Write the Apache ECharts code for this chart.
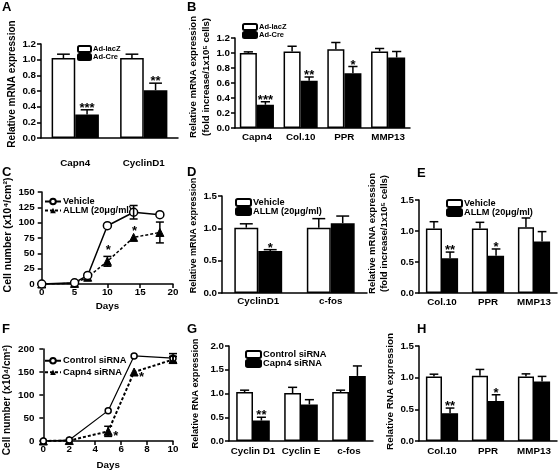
<!DOCTYPE html>
<html><head><meta charset="utf-8">
<script src="https://cdn.jsdelivr.net/npm/echarts@6/dist/echarts.min.js"></script>
<style>html,body{margin:0;padding:0;background:#fff}#c{width:560px;height:473px}</style>
</head><body><div id="c"></div>
<script>
// ================= DATA =================
// Panel A
const catsA = ['Capn4', 'CyclinD1'];
const lacZA = [1.02, 1.02];
const lacZErrA = [0.05, 0.05];
const creA = [0.30, 0.61];
const creErrA = [0.06, 0.09];
const starsA = ['***', '**'];
const yTicksA = [0, 0.2, 0.4, 0.6, 0.8, 1.0, 1.2];
// Panel B
const catsB = ['Capn4', 'Col.10', 'PPR', 'MMP13'];
const lacZB = [1.00, 1.02, 1.05, 1.02];
const lacZErrB = [0.015, 0.07, 0.09, 0.04];
const creB = [0.31, 0.63, 0.73, 0.94];
const creErrB = [0.04, 0.05, 0.09, 0.08];
const starsB = ['***', '**', '*', ''];
const yTicksB = [0, 0.2, 0.4, 0.6, 0.8, 1.0, 1.2];
// Panel C
const daysC = [0, 5, 7, 10, 14, 18];
const vehicleC = [0, 2, 14, 95, 117, 113];
const vehicleErrC = [0, 0, 0, 0, 11, 0];
const allmC = [0, 1, 11, 37, 76, 84];
const allmErrC = [0, 0, 0, 8, 0, 17];
const starsC = ['', '', '', '*', '*', ''];
const xTicksC = [0, 5, 10, 15, 20];
const yTicksC = [0, 25, 50, 75, 100, 125, 150];
// Panel D
const catsD = ['CyclinD1', 'c-fos'];
const vehD = [1.01, 1.01];
const vehErrD = [0.06, 0.14];
const allmD = [0.65, 1.08];
const allmErrD = [0.02, 0.11];
const starsD = ['*', ''];
const yTicksD = [0, 0.5, 1.0, 1.5];
// Panel E
const catsE = ['Col.10', 'PPR', 'MMP13'];
const vehE = [1.04, 1.04, 1.06];
const vehErrE = [0.11, 0.10, 0.15];
const allmE = [0.56, 0.60, 0.83];
const allmErrE = [0.10, 0.11, 0.16];
const starsE = ['**', '*', ''];
const yTicksE = [0, 0.5, 1.0, 1.5];
// Panel F
const daysF = [0, 2, 5, 7, 10];
const ctrlF = [0, 2, 66, 185, 180];
const ctrlErrF = [0, 0, 0, 0, 10];
const capnF = [0, 1, 21, 150, 177];
const capnErrF = [0, 0, 11, 0, 7];
const starsF = ['', '', '*', '*', ''];
const xTicksF = [0, 2, 4, 6, 8, 10];
const yTicksF = [0, 50, 100, 150, 200];
// Panel G
const catsG = ['Cyclin D1', 'Cyclin E', 'c-fos'];
const ctrlG = [1.03, 1.01, 1.03];
const ctrlErrG = [0.04, 0.12, 0.04];
const capnG = [0.43, 0.77, 1.37];
const capnErrG = [0.07, 0.10, 0.21];
const starsG = ['**', '', ''];
const yTicksG = [0, 0.5, 1.0, 1.5, 2.0];
// Panel H
const catsH = ['Col.10', 'PPR', 'MMP13'];
const ctrlH = [1.02, 1.03, 1.02];
const ctrlErrH = [0.035, 0.10, 0.04];
const capnH = [0.44, 0.63, 0.94];
const capnErrH = [0.08, 0.10, 0.08];
const starsH = ['**', '*', ''];
const yTicksH = [0, 0.5, 1.0, 1.5];

// ================= FONTS =================
function fontAvailable(name) {
  const ctx = document.createElement('canvas').getContext('2d');
  const s = 'Relative mRNA expression 0123';
  ctx.font = 'bold 40px monospace'; const a = ctx.measureText(s).width;
  ctx.font = 'bold 40px "' + name + '", monospace'; const b = ctx.measureText(s).width;
  return Math.abs(a - b) > 0.5;
}
let FONT, BOOST;
if (fontAvailable('Liberation Sans Narrow')) { FONT = '"Liberation Sans Narrow"'; BOOST = 1; }
else if (fontAvailable('Arial Narrow')) { FONT = '"Arial Narrow"'; BOOST = 1; }
else { FONT = '"Liberation Sans", Arial, sans-serif'; BOOST = 1.08; }
const LETTER_FONT = '"Liberation Sans", Arial, sans-serif';
const mctx = document.createElement('canvas').getContext('2d');
// font size giving a text about the width it has in the reference picture
function sizeFor(text, target, boost) {
  mctx.font = 'bold 100px ' + FONT;
  return Math.round((boost || 1) * target / mctx.measureText(text).width * 1000) / 10;
}
const F_TICK = Math.min(12, sizeFor('CyclinD1', 39, BOOST));
const F_LEG_AB = Math.max(7.5, Math.min(10, sizeFor('Ad-lacZ', 23, BOOST)));
const F_LEG_C = Math.min(11, sizeFor('ALLM (20\u03bcg/ml)', 64, BOOST));
const F_LEG_F = Math.min(11, sizeFor('Control siRNA', 59, BOOST));
const F_STAR = 13;

// ================= HELPERS =================
const AX = { color: '#000', width: 1.5 };
function catX(gi, cats, margin) {
  return {
    type: 'category', gridIndex: gi, data: cats,
    axisLine: { lineStyle: AX },
    axisTick: { alignWithLabel: true, length: 4, lineStyle: AX },
    axisLabel: { color: '#000', fontFamily: FONT, fontWeight: 'bold', fontSize: F_TICK, margin: margin, interval: 0, hideOverlap: false },
    splitLine: { show: false }
  };
}
function valX(gi, ticks, name, gap) {
  return {
    type: 'value', gridIndex: gi, min: ticks[0], max: ticks[ticks.length - 1], interval: ticks[1] - ticks[0],
    axisLine: { lineStyle: AX }, axisTick: { length: 4, lineStyle: AX },
    axisLabel: { color: '#000', fontFamily: FONT, fontWeight: 'bold', fontSize: F_TICK, margin: 3 },
    splitLine: { show: false },
    name: name, nameLocation: 'middle', nameGap: gap,
    nameTextStyle: { color: '#000', fontFamily: FONT, fontWeight: 'bold', fontSize: F_TICK }
  };
}
// name title sized so its (first) line has the reference length
function valY(gi, ticks, dec, name, gap, shift, offset, titleLen) {
  const pad = shift >= 0 ? [0, 0, 0, 2 * shift] : [0, -2 * shift, 0, 0];
  const fsz = Math.min(13, sizeFor(name.split('\n')[0], titleLen));
  return {
    type: 'value', gridIndex: gi, min: ticks[0], max: ticks[ticks.length - 1], interval: ticks[1] - ticks[0],
    offset: offset || 0,
    axisLine: { show: true, lineStyle: AX }, axisTick: { show: true, length: 4, lineStyle: AX },
    axisLabel: { color: '#000', fontFamily: FONT, fontWeight: 'bold', fontSize: F_TICK, margin: 5,
      formatter: v => Number(v).toFixed(dec) },
    splitLine: { show: false },
    name: name, nameLocation: 'middle', nameRotate: 90, nameGap: gap,
    nameTextStyle: { color: '#000', fontFamily: FONT, fontWeight: 'bold', fontSize: fsz, lineHeight: fsz + 3, padding: pad }
  };
}
function barErr(gapFrac, side, errs, stars) {
  return function (params, api) {
    const i = api.value(0), v = api.value(1), e = errs[params.dataIndex];
    const band = api.size([1, 0])[0];
    const bw = band * (1 - gapFrac) / 2;
    const base = api.coord([i, v]);
    const cx = base[0] + side * bw / 2;
    const top = api.coord([i, v + e])[1];
    const cap = bw * 0.27;
    const st = { stroke: '#000', lineWidth: 1.5 };
    const ch = [
      { type: 'line', shape: { x1: cx, y1: base[1], x2: cx, y2: top }, style: st },
      { type: 'line', shape: { x1: cx - cap, y1: top, x2: cx + cap, y2: top }, style: st }
    ];
    const s = stars ? stars[params.dataIndex] : '';
    if (s) ch.push({ type: 'text', x: cx, y: top + 5, style: { text: s, fill: '#000',
      font: 'bold ' + F_STAR + 'px ' + LETTER_FONT, textAlign: 'center', textVerticalAlign: 'bottom' } });
    return { type: 'group', children: ch };
  };
}
function lineErr(errs, stars, starMode) {
  return function (params, api) {
    const x = api.value(0), y = api.value(1), e = errs[params.dataIndex];
    const p = api.coord([x, y]);
    const st = { stroke: '#000', lineWidth: 1.5 };
    const ch = [];
    let top = p[1];
    if (e > 0) {
      top = api.coord([x, y + e])[1];
      const bot = api.coord([x, y - e])[1];
      ch.push({ type: 'line', shape: { x1: p[0], y1: bot, x2: p[0], y2: top }, style: st });
      ch.push({ type: 'line', shape: { x1: p[0] - 4, y1: top, x2: p[0] + 4, y2: top }, style: st });
      ch.push({ type: 'line', shape: { x1: p[0] - 4, y1: bot, x2: p[0] + 4, y2: bot }, style: st });
    }
    const s = stars ? stars[params.dataIndex] : '';
    if (s) {
      if (starMode === 'above') ch.push({ type: 'text', x: p[0] + 1, y: top + 1, style: { text: s, fill: '#000',
        font: 'bold ' + F_STAR + 'px ' + LETTER_FONT, textAlign: 'center', textVerticalAlign: 'bottom' } });
      else ch.push({ type: 'text', x: p[0] + 5, y: p[1] + 5, style: { text: s, fill: '#000',
        font: 'bold ' + F_STAR + 'px ' + LETTER_FONT, textAlign: 'left', textVerticalAlign: 'middle' } });
    }
    return { type: 'group', children: ch };
  };
}
const WHITE_BAR = { color: '#fff', borderColor: '#000', borderWidth: 1.5 };
const BLACK_BAR = { color: '#000', borderColor: '#000', borderWidth: 1.5 };
function barPanel(gi, p, names, w, we, b, be, stars, gap) {
  const g = gap + '%';
  return [
    { type: 'bar', name: p + ':' + names[0], xAxisIndex: gi, yAxisIndex: gi, data: w, itemStyle: WHITE_BAR,
      barGap: '0%', barCategoryGap: g, z: 2, silent: true },
    { type: 'bar', name: p + ':' + names[1], xAxisIndex: gi, yAxisIndex: gi, data: b, itemStyle: BLACK_BAR,
      barGap: '0%', barCategoryGap: g, z: 2, silent: true },
    { type: 'custom', xAxisIndex: gi, yAxisIndex: gi, data: w.map((v, i) => [i, v]), encode: { x: 0, y: 1 },
      renderItem: barErr(gap / 100, -1, we, null), z: 5, silent: true },
    { type: 'custom', xAxisIndex: gi, yAxisIndex: gi, data: b.map((v, i) => [i, v]), encode: { x: 0, y: 1 },
      renderItem: barErr(gap / 100, 1, be, stars), z: 5, silent: true }
  ];
}
function linePanel(gi, p, names, xs, a, ae, b, be, stars, starMode, cfg) {
  return [
    { type: 'line', name: p + ':' + names[0], xAxisIndex: gi, yAxisIndex: gi, data: xs.map((x, i) => [x, a[i]]),
      symbol: 'circle', symbolSize: cfg.circ, lineStyle: { color: '#000', width: cfg.lw1 },
      itemStyle: { color: '#fff', borderColor: '#000', borderWidth: 1.5 }, z: 4, silent: true },
    { type: 'line', name: p + ':' + names[1], xAxisIndex: gi, yAxisIndex: gi, data: xs.map((x, i) => [x, b[i]]),
      symbol: 'triangle', symbolSize: cfg.tri, lineStyle: { color: '#000', width: cfg.lw2, type: cfg.dash },
      itemStyle: { color: '#000', borderColor: '#000' }, z: 3, silent: true },
    { type: 'custom', xAxisIndex: gi, yAxisIndex: gi, data: xs.map((x, i) => [x, a[i]]), encode: { x: 0, y: 1 },
      renderItem: lineErr(ae, null, starMode), z: 5, silent: true },
    { type: 'custom', xAxisIndex: gi, yAxisIndex: gi, data: xs.map((x, i) => [x, b[i]]), encode: { x: 0, y: 1 },
      renderItem: lineErr(be, stars, starMode), z: 5, silent: true }
  ];
}
function legend(p, names, left, top, iw, ih, fsz, lh) {
  return {
    data: names.map(n => p + ':' + n), left: left, top: top, orient: 'vertical', padding: 0,
    itemGap: 0, itemWidth: iw, itemHeight: ih, selectedMode: false,
    formatter: n => n.slice(2),
    textStyle: { color: '#000', fontFamily: FONT, fontWeight: 'bold', fontSize: fsz, lineHeight: lh, padding: [0, 0, 0, -3] }
  };
}

// ================= OPTION =================
const namesAB = ['Ad-lacZ', 'Ad-Cre'];
const namesCDE = ['Vehicle', 'ALLM (20\u03bcg/ml)'];
const namesFGH = ['Control siRNA', 'Capn4 siRNA'];
const relM = 'Relative mRNA expression';
const relFold = 'Relative mRNA expression\n(fold increase/1x10\u2075 cells)';
const cellN = 'Cell number (x10\u2074/cm\u00b2)';
const relR = 'Relative RNA expression';

const letters = [['A', 2, 1], ['B', 187, 1], ['C', 2, 166], ['D', 187, 166], ['E', 417, 167],
  ['F', 2, 323], ['G', 187, 323], ['H', 417, 323]];

const option = {
  backgroundColor: '#fff',
  animation: false,
  title: letters.map(l => ({ text: l[0], left: l[1], top: l[2], padding: 0,
    textStyle: { color: '#000', fontFamily: LETTER_FONT, fontWeight: 'bold', fontSize: 13 } })),
  grid: [
    { left: 41, top: 44, width: 137, height: 94 },   // A
    { left: 235, top: 38, width: 175, height: 90 },  // B
    { left: 38, top: 192, width: 135, height: 92 },  // C
    { left: 222, top: 196, width: 145, height: 97 }, // D
    { left: 419, top: 200, width: 138, height: 93 }, // E
    { left: 37, top: 349, width: 136, height: 92 },  // F
    { left: 229, top: 346, width: 144, height: 95 }, // G
    { left: 419, top: 346, width: 138, height: 95 }  // H
  ],
  xAxis: [
    catX(0, catsA, 20),
    catX(1, catsB, 4),
    valX(2, xTicksC, 'Days', 17),
    catX(3, catsD, 3),
    catX(4, catsE, 4),
    valX(5, xTicksF, 'Days', 19),
    catX(6, catsG, 5),
    catX(7, catsH, 5)
  ],
  yAxis: [
    valY(0, yTicksA, 1, relM, 15, 7, 0, 127),
    valY(1, yTicksB, 1, relFold, 15, 6, 0, 122),
    valY(2, yTicksC, 0, cellN, 16, 3, 2, 115),
    valY(3, yTicksD, 1, relM, 20, 9, 0, 116),
    valY(4, yTicksE, 1, relFold, 28, 13, 0, 121),
    valY(5, yTicksF, 0, cellN, 13, -5, 4, 110),
    valY(6, yTicksG, 1, relR, 27, 0, 0, 110),
    valY(7, yTicksH, 1, relR, 14, 2, 0, 117)
  ],
  legend: [
    legend('A', namesAB, 77, 45, 13, 6, F_LEG_AB, 6),
    legend('B', namesAB, 242, 23, 14, 6, F_LEG_AB, 6),
    legend('C', namesCDE, 44, 197, 16, 7, F_LEG_C, 9),
    legend('D', namesCDE, 235, 198, 15, 7, F_LEG_C, 7),
    legend('E', namesCDE, 446, 199, 15, 7, F_LEG_C, 7),
    legend('F', namesFGH, 44, 355, 16, 7, F_LEG_F, 11.5),
    legend('G', namesFGH, 245, 350, 15, 7, F_LEG_F, 7)
  ],
  series: [].concat(
    barPanel(0, 'A', namesAB, lacZA, lacZErrA, creA, creErrA, starsA, 31),
    barPanel(1, 'B', namesAB, lacZB, lacZErrB, creB, creErrB, starsB, 22),
    linePanel(2, 'C', namesCDE, daysC, vehicleC, vehicleErrC, allmC, allmErrC, starsC, 'above',
      { circ: 8, tri: 8, lw1: 1.5, lw2: 1.5, dash: [3, 2] }),
    barPanel(3, 'D', namesCDE, vehD, vehErrD, allmD, allmErrD, starsD, 34),
    barPanel(4, 'E', namesCDE, vehE, vehErrE, allmE, allmErrE, starsE, 30),
    linePanel(5, 'F', namesFGH, daysF, ctrlF, ctrlErrF, capnF, capnErrF, starsF, 'right',
      { circ: 6, tri: 8, lw1: 1.2, lw2: 2, dash: [3, 2] }),
    barPanel(6, 'G', namesFGH, ctrlG, ctrlErrG, capnG, capnErrG, starsG, 30),
    barPanel(7, 'H', namesFGH, ctrlH, ctrlErrH, capnH, capnErrH, starsH, 30)
  )
};
const chart = echarts.init(document.getElementById('c'), null, { renderer: 'canvas' });
chart.setOption(option);
</script>
</body></html>
